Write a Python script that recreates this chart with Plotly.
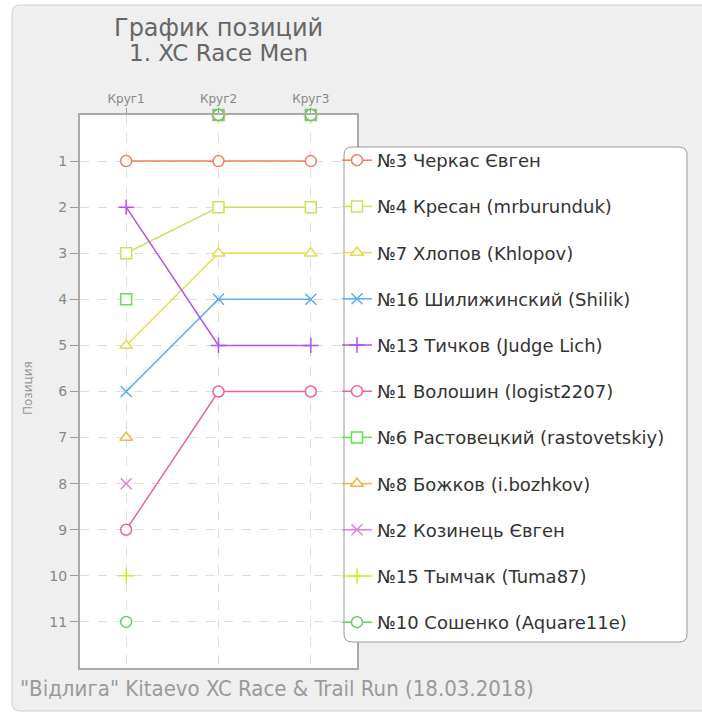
import plotly.graph_objects as go

# ---- data ----
laps = ["Круг1", "Круг2", "Круг3"]
y_ticks = [1, 2, 3, 4, 5, 6, 7, 8, 9, 10, 11]

riders = [
    "№3 Черкас Євген",
    "№4 Кресан (mrburunduk)",
    "№7 Хлопов (Khlopov)",
    "№16 Шилижинский (Shilik)",
    "№13 Тичков (Judge Lich)",
    "№1 Волошин (logist2207)",
    "№6 Растовецкий (rastovetskiy)",
    "№8 Божков (i.bozhkov)",
    "№2 Козинець Євген",
    "№15 Тымчак (Tuma87)",
    "№10 Сошенко (Aquare11e)",
]
# positions per lap; 0 = did not continue (drawn on the top edge)
pos_cherkas = [1, 1, 1]
pos_kresan = [3, 2, 2]
pos_khlopov = [5, 3, 3]
pos_shilik = [6, 4, 4]
pos_tychkov = [2, 5, 5]
pos_voloshyn = [9, 6, 6]
pos_rastovetskiy = [4, 0, 0]
pos_bozhkov = [7, 0, 0]
pos_kozynets = [8, 0, 0]
pos_tymchak = [10, 0, 0]
pos_soshenko = [11, 0, 0]

positions = [pos_cherkas, pos_kresan, pos_khlopov, pos_shilik, pos_tychkov,
             pos_voloshyn, pos_rastovetskiy, pos_bozhkov, pos_kozynets,
             pos_tymchak, pos_soshenko]

colors = ["#ee8055", "#c4e458", "#e4dc50", "#58aeea", "#b450ee",
          "#ee6690", "#66dd55", "#eeb444", "#e07ee0", "#ccee22", "#66cc66"]
symbols = ["circle", "square", "triangle-up", "x-thin", "cross-thin",
           "circle", "square", "triangle-up", "x-thin", "cross-thin", "circle"]

title_line1 = "График позиций"
title_line2 = "1. XC Race Men"
subtitle = '"Відлига" Kitaevo XC Race & Trail Run (18.03.2018)'

# ---- layout helpers (pixel geometry) ----
W, H = 702, 714
L, R, T, B = 80, 357, 115, 668
PW, PH = R - L, B - T


def px(x):
    return (x - L) / PW


def py(y):
    return (B - y) / PH


def rrect(x0, y0, x1, y1, r):
    rx, ry = r / PW, r / PH
    X0, X1, Y0, Y1 = px(x0), px(x1), py(y0), py(y1)
    return (f"M {X0+rx},{Y0} L {X1-rx},{Y0} Q {X1},{Y0} {X1},{Y0-ry} "
            f"L {X1},{Y1+ry} Q {X1},{Y1} {X1-rx},{Y1} L {X0+rx},{Y1} "
            f"Q {X0},{Y1} {X0},{Y1+ry} L {X0},{Y0-ry} Q {X0},{Y0} {X0+rx},{Y0} Z")


fig = go.Figure()

for i, (name, vals) in enumerate(zip(riders, positions)):
    yv = [v if v > 0 else None for v in vals]
    fig.add_trace(go.Scatter(
        x=laps, y=yv, name=name, mode="lines+markers",
        legendgroup=f"g{i}",
        line=dict(color=colors[i], width=1.5),
        marker=dict(symbol=symbols[i], size=11, color="white",
                    line=dict(color=colors[i], width=1.5)),
        cliponaxis=False, connectgaps=False,
    ))
    zx = [laps[k] for k, v in enumerate(vals) if v == 0]
    if zx:
        fig.add_trace(go.Scatter(
            x=zx, y=[0] * len(zx), mode="markers", showlegend=False,
            legendgroup=f"g{i}", hoverinfo="skip",
            marker=dict(symbol=symbols[i], size=11, color="white",
                        line=dict(color=colors[i], width=1.5)),
            cliponaxis=False,
        ))

shapes = [
    # outer panel
    dict(type="path", xref="paper", yref="paper", layer="below",
         path=rrect(12, 5, 712, 711, 8), fillcolor="#efefef",
         line=dict(color="#cfcfcf", width=1)),
    # plot area background
    dict(type="rect", xref="x domain", yref="y domain", layer="below",
         x0=0, x1=1, y0=0, y1=1, fillcolor="white", line=dict(width=0)),
    # legend box
    dict(type="path", xref="paper", yref="paper", layer="above",
         path=rrect(344, 147, 687, 642, 8), fillcolor="white",
         line=dict(color="#999999", width=1)),
]

annotations = [
    dict(text=title_line1, xref="paper", yref="paper", x=0.5, y=py(28),
         xanchor="center", yanchor="middle", showarrow=False,
         font=dict(size=24, color="#666666", family="DejaVu Sans")),
    dict(text=title_line2, xref="paper", yref="paper", x=0.5, y=py(53),
         xanchor="center", yanchor="middle", showarrow=False,
         font=dict(size=23, color="#666666", family="DejaVu Sans")),
    dict(text=subtitle, xref="paper", yref="paper", x=px(18), y=py(688),
         xanchor="left", yanchor="middle", showarrow=False,
         font=dict(size=22, color="#9a9a9a",
                   family="DejaVu Sans Condensed, Liberation Sans Narrow, DejaVu Sans")),
    dict(text="Позиция", xref="paper", yref="paper", x=px(28), y=py(388),
         xanchor="center", yanchor="middle", showarrow=False, textangle=-90,
         font=dict(size=12, color="#999999", family="DejaVu Sans")),
]

fig.update_layout(
    width=W, height=H,
    margin=dict(l=L, r=W - R, t=T, b=H - B, autoexpand=False),
    paper_bgcolor="white", plot_bgcolor="white",
    font=dict(family="DejaVu Sans", color="#888888"),
    xaxis=dict(type="category", categoryorder="array", categoryarray=laps,
               range=[-0.5, 2.5], side="top", automargin=False,
               showgrid=True, gridcolor="#dddddd", griddash="dash", gridwidth=1,
               ticks="outside", ticklen=5, tickcolor="#999999",
               tickfont=dict(size=12, color="#888888"),
               showline=True, linecolor="#aaaaaa", linewidth=2, mirror=True,
               zeroline=False, fixedrange=True),
    yaxis=dict(range=[12, 0], tickmode="array", tickvals=y_ticks,
               ticktext=[str(v) for v in y_ticks], automargin=False,
               showgrid=True, gridcolor="#dddddd", griddash="dash", gridwidth=1,
               ticks="outside", ticklen=8, tickcolor="#999999",
               tickfont=dict(size=14, color="#888888"),
               showline=True, linecolor="#aaaaaa", linewidth=2, mirror=True,
               zeroline=False, fixedrange=True),
    legend=dict(x=px(337), xanchor="left", y=py(142), yanchor="top",
                bgcolor="rgba(0,0,0,0)", borderwidth=0,
                traceorder="grouped", tracegroupgap=19.8, itemwidth=30,
                font=dict(size=18, color="#333333", family="DejaVu Sans")),
    shapes=shapes,
    annotations=annotations,
    showlegend=True,
)

fig.write_html("out.html", config={"displayModeBar": False},
               post_script="document.body.style.margin='0';")
